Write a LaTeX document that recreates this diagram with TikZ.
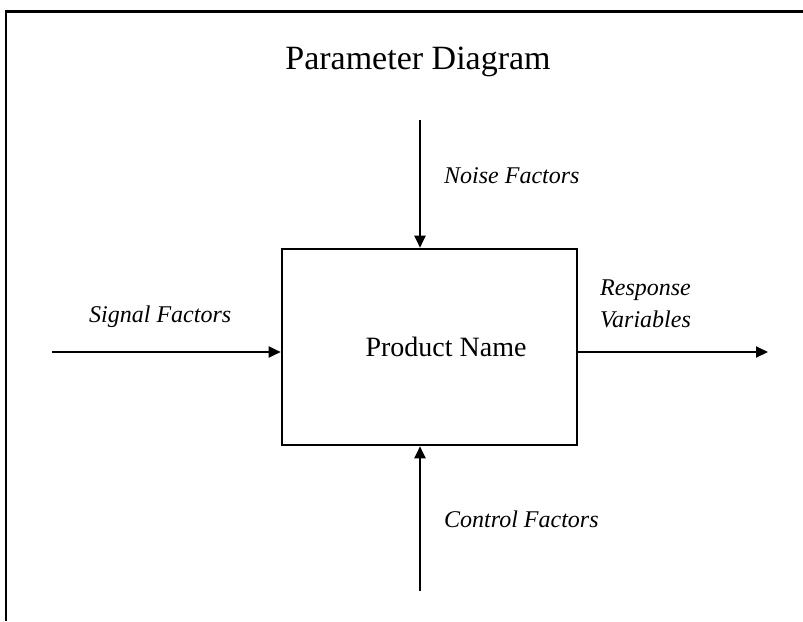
\documentclass[tikz,border=0pt]{standalone}
\usepackage{fontspec}
\setmainfont{Liberation Serif}
\usetikzlibrary{arrows.meta}
\begin{document}
\begin{tikzpicture}[x=1pt,y=-1pt,
  frame/.style={line width=2.4pt},
  flow/.style={line width=2pt,-{Triangle[length=12pt,width=11pt]}},
  factor/.style={font=\fontsize{24}{32}\selectfont\itshape,anchor=west,inner sep=0pt},
  block/.style={draw,line width=2.6pt,minimum width=295pt,minimum height=196pt,inner sep=0pt}]
  \useasboundingbox (0,0) rectangle (803,621);
  % partial outer frame
  \coordinate (fTL) at (6,11.5);
  \coordinate (fTR) at (803,11.5);
  \coordinate (fBL) at (6,621);
  \draw[frame] (fTR) -- (fTL) -- (fBL);
  % title
  \node[font=\fontsize{34}{40}\selectfont] (title) at (418,62) {Parameter Diagram};
  % central block
  \node[block] (prod) at (429.5,347) {};
  \node[font=\fontsize{28}{32}\selectfont,inner sep=0pt] (pname) at (446,347) {Product Name};
  % connector end points
  \coordinate (nTop) at (420,120);
  \coordinate (cBot) at (420,591);
  \coordinate (sIn) at (52,352);
  \coordinate (rOut) at (768,352);
  \draw[flow] (nTop) -- (nTop |- prod.north);
  \draw[flow] (cBot) -- (cBot |- prod.south);
  \draw[flow] (sIn) -- (sIn -| prod.west);
  \draw[flow] (rOut -| prod.east) -- (rOut);
  % labels
  \node[factor] (noise) at (444,176) {Noise Factors};
  \node[factor] (signal) at (89,317) {Signal Factors};
  \node[factor,align=left] (resp) at (600,304) {Response\\Variables};
  \node[factor] (ctrl) at (444,519) {Control Factors};
\end{tikzpicture}
\end{document}
